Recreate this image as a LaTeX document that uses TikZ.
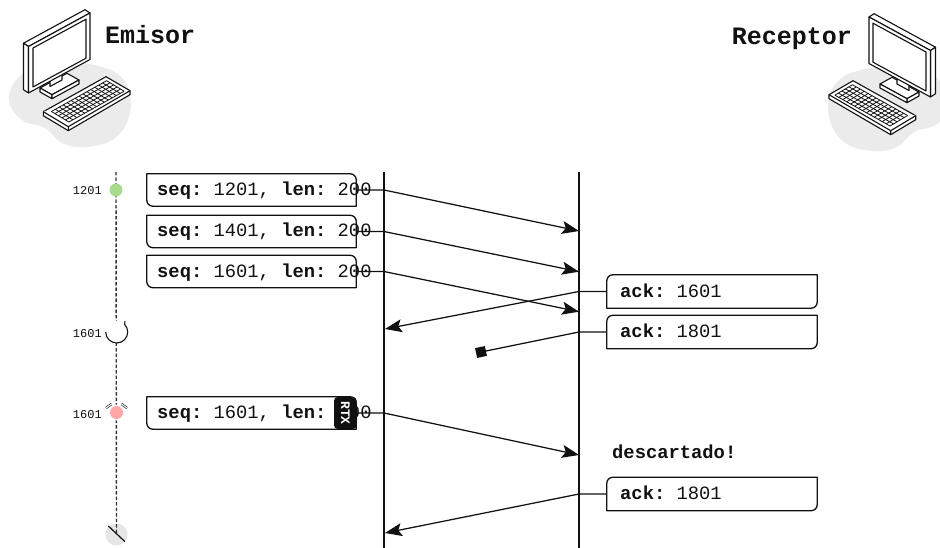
\documentclass[tikz,border=0pt]{standalone}
\usepackage{fontspec}
\setmainfont{Liberation Mono}
\usetikzlibrary{arrows.meta,calc}

\definecolor{ink}{HTML}{111111}
\definecolor{okgreen}{HTML}{A8DC8C}
\definecolor{alertred}{HTML}{FFA6A6}
\definecolor{blobgray}{HTML}{EBEBEB}
\definecolor{endgray}{HTML}{E6E6E6}
\definecolor{dashgray}{HTML}{333333}

% outline of a segment box: rounded top-right and bottom-left corners
\newcommand\segframe[1]{%
  \draw[frame] (#1.north west) -- ([xshift=-6pt]#1.north east)
    arc[start angle=-90,end angle=0,radius=6] -- (#1.south east)
    -- ([xshift=6pt]#1.south west) arc[start angle=90,end angle=180,radius=6] -- cycle;}
% outline of an ack box: rounded top-left and bottom-right corners
\newcommand\ackframe[1]{%
  \draw[frame] (#1.south west) -- ([yshift=-6pt]#1.north west)
    arc[start angle=180,end angle=270,radius=6] -- (#1.north east)
    -- ([yshift=6pt]#1.south east) arc[start angle=0,end angle=90,radius=6] -- cycle;}

% desktop computer with its background blob
\newcommand\drawcomputer{%
  \fill[blobgray] plot[smooth cycle,tension=0.7] coordinates
    {(9,100) (18,78) (40,66) (68,62) (98,66) (120,76) (130,95) (128,120)
     (112,140) (85,147) (62,143) (45,128) (22,120)};
  % stand base
  \filldraw[icon] (40,88) -- (67,73.3) -- (79,80) -- (52,94.7) -- cycle;
  \filldraw[icon] (40,88) -- (52,94.7) -- (52,98.7) -- (40,92) -- cycle;
  \filldraw[icon] (52,94.7) -- (79,80) -- (79,84) -- (52,98.7) -- cycle;
  % neck
  \filldraw[icon] (50,80) -- (50,86.5) -- (62,80) -- (62,73.5) -- cycle;
  % monitor: top, side, front, screen
  \filldraw[icon] (23.5,43.2) -- (85,9.7) -- (90,13) -- (28.5,46.5) -- cycle;
  \filldraw[icon] (23.5,43.2) -- (28.5,46.5) -- (28.5,93) -- (23.5,89.7) -- cycle;
  \filldraw[icon] (28.5,46.5) -- (90,13) -- (90,59.5) -- (28.5,93) -- cycle;
  \draw[icon] (33,48) -- (86,19.2) -- (86,58.2) -- (33,87) -- cycle;
  % keyboard body
  \filldraw[icon] (43.3,111.7) -- (106,76.7) -- (130,90.7) -- (130,94.7)
    -- (68.3,130.7) -- (43.3,115.7) -- cycle;
  \draw[icon] (43.3,111.7) -- (68.3,126.7) -- (130,90.7) (68.3,126.7) -- (68.3,130.7);
  % keys
  \foreach \i in {0,...,14}{
    \pgfmathsetmacro\s{0.07+\i*0.88/14}
    \draw[ink,line width=0.8pt]
      ({43.3+62.7*\s+25*0.15},{111.7-35*\s+15*0.15}) --
      ({43.3+62.7*\s+25*0.85},{111.7-35*\s+15*0.85});}
  \foreach \j in {0,...,5}{
    \pgfmathsetmacro\t{0.15+\j*0.14}
    \draw[ink,line width=0.8pt]
      ({43.3+62.7*0.07+25*\t},{111.7-35*0.07+15*\t}) --
      ({43.3+62.7*0.95+25*\t},{111.7-35*0.95+15*\t});}
}

\tikzset{icon/.style={draw=ink,fill=white,line width=1.1pt,line join=round}}

\begin{document}
\frenchspacing
\begin{tikzpicture}[x=1pt,y=-1pt,
  frame/.style={draw=ink,line width=1.3pt,line join=round},
  segbox/.style={minimum width=209pt,minimum height=32pt,inner sep=0pt},
  ackbox/.style={minimum width=210pt,minimum height=33pt,inner sep=0pt},
  txt/.style={font=\fontsize{18.8}{22}\selectfont,text=ink,inner sep=0pt,anchor=base west},
  title/.style={font=\fontsize{25}{28}\selectfont\bfseries,text=ink,inner sep=0pt},
  lbl/.style={font=\fontsize{12}{14}\selectfont,text=ink,inner sep=0pt,anchor=base east},
  msg/.style={draw=ink,line width=1.25pt,-{Stealth[length=17pt,width=13pt,inset=3.5pt]}},
  plainline/.style={draw=ink,line width=1.25pt},
  vline/.style={draw=ink,line width=1.25pt},
  timeline/.style={draw=dashgray,line width=1.4pt,dash pattern=on 3.5pt off 2pt},
  dotmark/.style={circle,minimum size=13pt,inner sep=0pt},
  lostsq/.style={fill=ink,minimum size=10pt,inner sep=0pt,rotate=12},
]
\useasboundingbox (0,0) rectangle (940,548);

% hosts
\begin{scope}
  \drawcomputer
\end{scope}
\begin{scope}[shift={(959,4)},xscale=-1]
  \drawcomputer
\end{scope}
\node[title,anchor=base west] (emisor) at (105,44) {Emisor};
\node[title,anchor=base east] (receptor) at (852,45) {Receptor};

% sender timeline
\node[circle,fill=endgray,minimum size=22pt,inner sep=0pt] (tlend) at (116.5,534.5) {};
\coordinate (tltop) at (116,172);
\draw[timeline] (tltop) -- (tlend.center);
\draw[ink,line width=1.2pt] ($(tlend.center)+(-8.2,-8.5)$) -- ($(tlend.center)+(8.5,7.2)$);

\node[dotmark,fill=okgreen] (m1) at (116,190) {};
\node[lbl] (m1l) at (102,195) {1201};

\node[circle,fill=white,minimum size=22pt,inner sep=0pt] (m2) at (116.7,332) {};
\draw[ink,line width=1.1pt] ($(m2.center)+(-45:11)$) arc[start angle=-45,end angle=180,radius=11];
\draw[ink,line width=1.1pt] ($(m2.center)+(-45:11)$) -- ++(0.6,-3);
\node[lbl] (m2l) at (102,337) {1601};

\node[circle,fill=white,minimum size=16pt,inner sep=0pt] (m3bg) at (116.5,412.5) {};
\node[dotmark,fill=alertred] (m3) at (116.5,412.5) {};
\draw[ink,line width=0.6pt,double distance=1.1pt] ($(m3.center)+(-10.5,-4.5)$) -- ($(m3.center)+(-5,-8.5)$);
\draw[ink,line width=0.6pt,double distance=1.1pt] ($(m3.center)+(10.5,-4.5)$) -- ($(m3.center)+(5,-8.5)$);
\node[lbl] (m3l) at (102,418) {1601};

% link lines of both ends
\coordinate (sa) at (384,172);
\coordinate (sb) at (384,548);
\coordinate (ra) at (579,172);
\coordinate (rb) at (579,548);
\draw[vline] (sa) -- (sb);
\draw[vline] (ra) -- (rb);

% data segments
\node[segbox] (s1) at (251.5,190) {};
\node[segbox] (s2) at (251.5,231.5) {};
\node[segbox] (s3) at (251.5,271.5) {};
\node[segbox] (s4) at (251.5,413) {};
\segframe{s1}\segframe{s2}\segframe{s3}\segframe{s4}
\node[txt] (s1t) at (157,196) {\textbf{seq:} 1201, \textbf{len:} 200};
\node[txt] (s2t) at (157,236.5) {\textbf{seq:} 1401, \textbf{len:} 200};
\node[txt] (s3t) at (157,277) {\textbf{seq:} 1601, \textbf{len:} 200};
\node[txt] (s4t) at (157,418.5) {\textbf{seq:} 1601, \textbf{len:} 200};

\coordinate (r1) at (579,231);
\coordinate (r2) at (579,271.7);
\coordinate (r3) at (579,311.7);
\coordinate (r4) at (579,455);
\draw[msg] (s1.east) -- (s1.east -| sa) -- (r1);
\draw[msg] (s2.east) -- (s2.east -| sa) -- (r2);
\draw[msg] (s3.east) -- (s3.east -| sa) -- (r3);
\draw[msg] (s4.east) -- (s4.east -| sa) -- (r4);

% retransmission tag
\fill[ink,rounded corners=4pt] (334,396.8) rectangle (356.6,429.2);
\node[font=\fontsize{13}{14}\selectfont\bfseries,text=white,rotate=-90,inner sep=0pt] (rtx) at (345.3,413) {RTX};

% acknowledgements
\node[ackbox] (a1) at (712,291.5) {};
\node[ackbox] (a2) at (712,332) {};
\node[ackbox] (a3) at (712,494) {};
\ackframe{a1}\ackframe{a2}\ackframe{a3}
\node[txt] (a1t) at (620,297) {\textbf{ack:} 1601};
\node[txt] (a2t) at (620,337.5) {\textbf{ack:} 1801};
\node[txt] (a3t) at (620,499.5) {\textbf{ack:} 1801};

\coordinate (t1) at (385,329);
\coordinate (t3) at (385,533);
\draw[msg] (a1.west) -- (a1.west -| ra) -- (t1);
\draw[plainline] (a2.west) -- (a2.west -| ra) -- (481,352) coordinate (lostpt);
\node[lostsq] (lost) at (lostpt) {};
\draw[msg] (a3.west) -- (a3.west -| ra) -- (t3);

\node[txt,font=\fontsize{18.8}{22}\selectfont\bfseries] (drop) at (612,458) {descartado!};
\end{tikzpicture}
\end{document}
